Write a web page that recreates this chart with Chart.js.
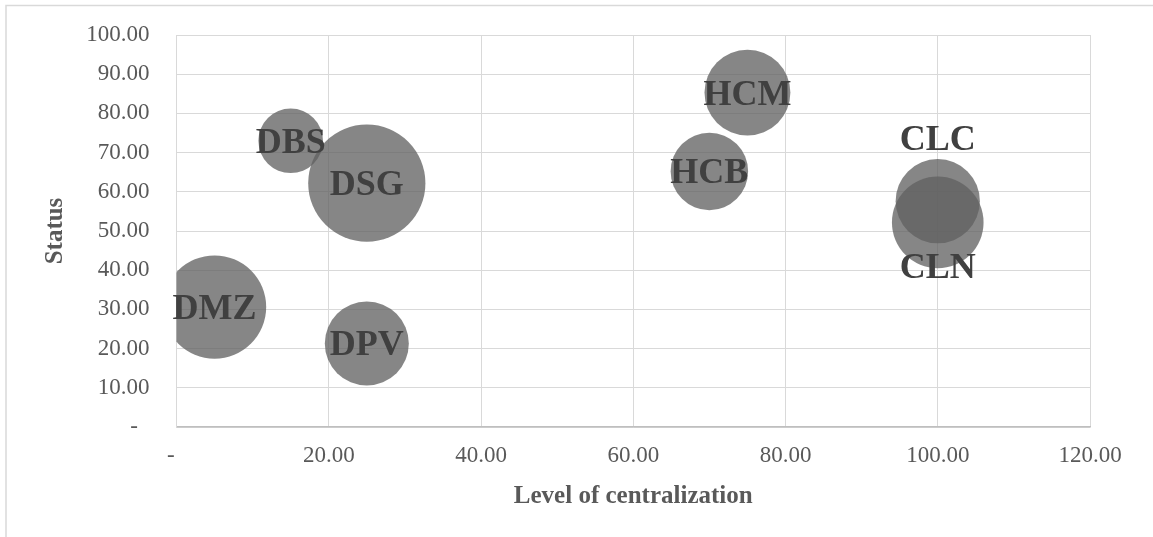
<!DOCTYPE html>
<html>
<head>
<meta charset="utf-8">
<script src="https://cdn.jsdelivr.net/npm/chart.js@4"></script>
<style>
    html, body { margin: 0; padding: 0; background: #ffffff; }
    #wrap { width: 1153px; height: 537px; }
</style>
</head>
<body>
<div id="wrap"><canvas id="bubble-chart" width="1153" height="537"></canvas></div>
<script>
// data
const units = ['DMZ', 'DBS', 'DSG', 'DPV', 'HCM', 'HCB', 'CLC', 'CLN'];
const centralization = [5, 15, 25, 25, 75, 70, 100, 100];
const status = [30.6, 73.0, 62.2, 21.3, 85.3, 65.2, 57.6, 52.2];
const bubbleSize = [77.6, 30.3, 100, 51.4, 53.7, 43.7, 51.7, 61.1];

const xTickLabels = ['-  ', '20.00', '40.00', '60.00', '80.00', '100.00', '120.00'];
const yTickLabels = ['-  ', '10.00', '20.00', '30.00', '40.00', '50.00', '60.00', '70.00', '80.00', '90.00', '100.00'];

// styling
const serif = "'Liberation Serif', 'Times New Roman', serif";
const gridColor = '#d9d9d9';
const textColor = '#595959';
const maxRadius = 58.6;
const labelShift = { CLC: -63, CLN: 44 };

document.addEventListener('DOMContentLoaded', () => {
    const ctx = document.getElementById('bubble-chart').getContext('2d');
    const maxSize = Math.max(...bubbleSize);

    const points = units.map((name, i) => ({
        x: centralization[i],
        y: status[i],
        r: maxRadius * Math.sqrt(bubbleSize[i] / maxSize)
    }));

    // white background plus the outer frame lines
    const frame = {
        id: 'frame',
        beforeDraw(chart) {
            const c = chart.ctx;
            c.save();
            c.fillStyle = '#ffffff';
            c.fillRect(0, 0, chart.width, chart.height);
            c.strokeStyle = gridColor;
            c.lineWidth = 1.5;
            c.beginPath();
            c.moveTo(6, chart.height);
            c.lineTo(6, 5.5);
            c.lineTo(chart.width, 5.5);
            c.stroke();
            c.restore();
        }
    };

    // bubble names drawn on top of the bubbles
    const bubbleLabels = {
        id: 'bubbleLabels',
        afterDatasetsDraw(chart) {
            const c = chart.ctx;
            const meta = chart.getDatasetMeta(0);
            const size = 36;
            c.save();
            c.font = `bold ${size}px ${serif}`;
            c.fillStyle = '#404040';
            c.textAlign = 'center';
            c.textBaseline = 'alphabetic';
            meta.data.forEach((el, i) => {
                const name = units[i];
                const shift = labelShift[name] || 0;
                c.fillText(name, el.x, el.y + shift + size * 0.33);
            });
            c.restore();
        }
    };

    new Chart(ctx, {
        type: 'bubble',
        data: {
            datasets: [{
                label: 'Units',
                data: points,
                backgroundColor: 'rgba(96, 96, 96, 0.76)',
                borderWidth: 0,
                clip: 0
            }]
        },
        options: {
            responsive: false,
            animation: false,
            events: [],
            layout: { autoPadding: false, padding: { top: 35, right: 63, left: 0, bottom: 0 } },
            plugins: {
                legend: { display: false },
                tooltip: { enabled: false }
            },
            scales: {
                x: {
                    type: 'linear',
                    min: 0,
                    max: 120,
                    afterFit: (scale) => { scale.height = 110; },
                    ticks: {
                        stepSize: 20,
                        autoSkip: false,
                        maxRotation: 0,
                        padding: 15,
                        color: textColor,
                        font: { family: serif, size: 23 },
                        callback: (value, index) => xTickLabels[index]
                    },
                    grid: { color: gridColor, lineWidth: 1, drawTicks: false },
                    border: { color: '#bfbfbf', width: 1.5 },
                    title: {
                        display: true,
                        text: 'Level of centralization',
                        color: textColor,
                        font: { family: serif, size: 25, weight: 'bold' },
                        padding: { top: 0, bottom: 25 }
                    }
                },
                y: {
                    type: 'linear',
                    min: 0,
                    max: 100,
                    afterFit: (scale) => {
                        scale.width = 176.5;
                        // tick padding would otherwise push the plot down
                        scale.paddingTop = 0;
                        scale.paddingBottom = 0;
                    },
                    ticks: {
                        stepSize: 10,
                        autoSkip: false,
                        padding: 27,
                        color: textColor,
                        font: { family: serif, size: 23 },
                        callback: (value, index) => yTickLabels[index]
                    },
                    grid: { color: gridColor, lineWidth: 1, drawTicks: false },
                    border: { color: gridColor, width: 1 },
                    title: {
                        display: true,
                        text: 'Status',
                        color: textColor,
                        font: { family: serif, size: 25, weight: 'bold' },
                        padding: { top: 41, bottom: 0 }
                    }
                }
            }
        },
        plugins: [frame, bubbleLabels]
    });
});
</script>
</body>
</html>
